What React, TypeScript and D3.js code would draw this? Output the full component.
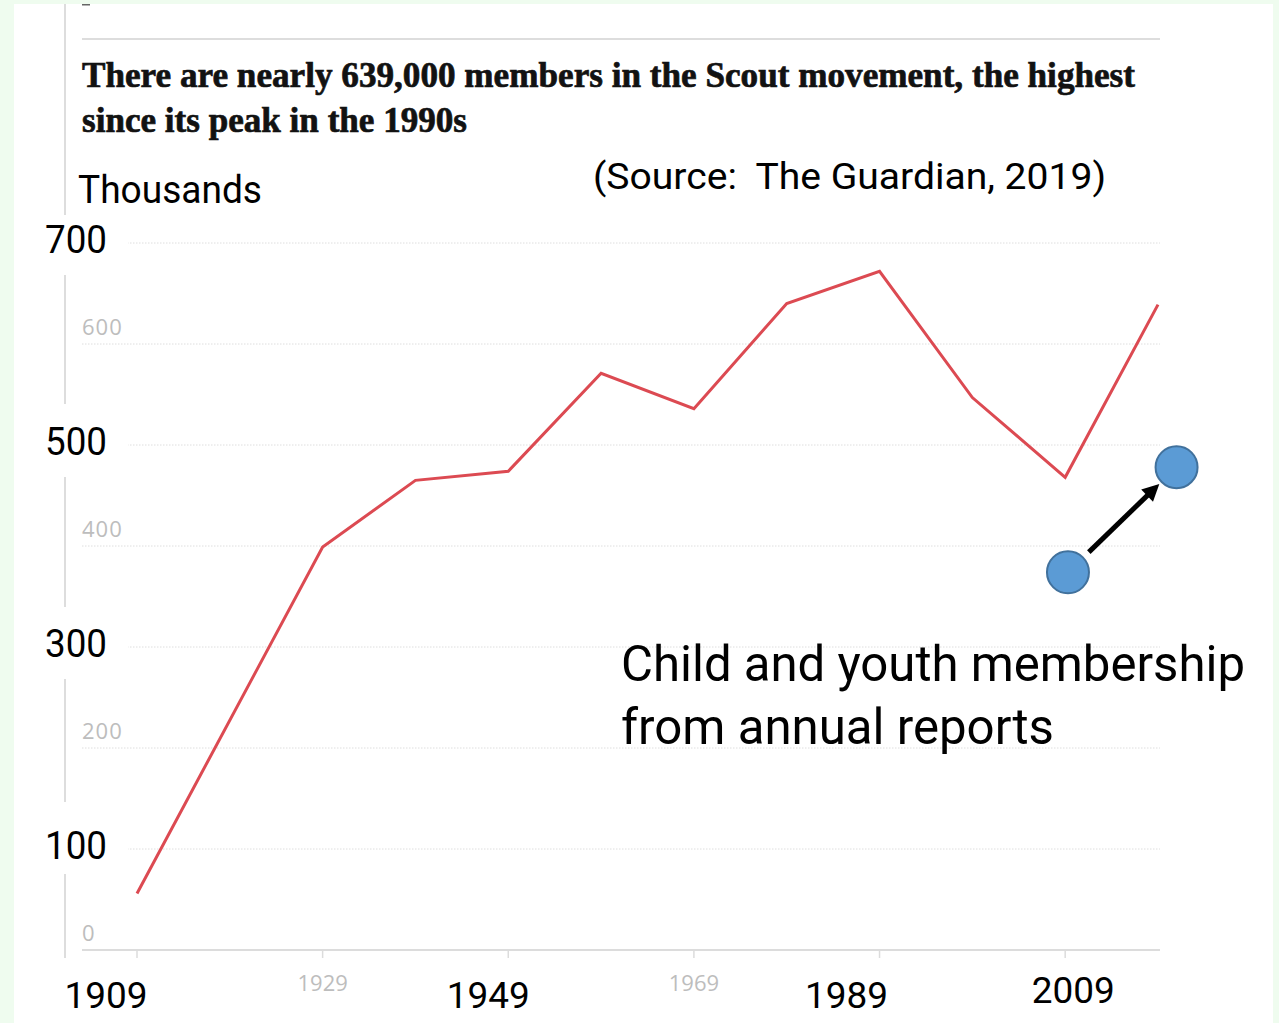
import React from "react";
import * as d3 from "d3";

// ---- data ----
const years = [1909, 1929, 1939, 1949, 1959, 1969, 1979, 1989, 1999, 2009, 2019];
const members = [56, 399, 465, 474, 571, 536, 640, 672, 547, 468, 639];
const yTicks = [0, 100, 200, 300, 400, 500, 600, 700];
const xTicks = [1909, 1929, 1949, 1969, 1989, 2009];
const yBigLabels = [700, 500, 300, 100];
const xBigLabels = [1909, 1949, 1989, 2009];
const titleLines = [
  "There are nearly 639,000 members in the Scout movement, the highest",
  "since its peak in the 1990s",
];
const sourceText = "(Source:  The Guardian, 2019)";
const unitText = "Thousands";
const noteLines = ["Child and youth membership", "from annual reports"];
// annotation markers (year, thousands)
const markerYears = [2009.3, 2021];
const markerValues = [374, 478];

const W = 1279;
const H = 1023;
const SANS = "'Open Sans', 'Noto Sans', sans-serif";
const BIG = "Roboto, 'Open Sans', sans-serif";

export default function App() {
  const x = d3.scaleLinear().domain([1909, 2019]).range([137, 1158]);
  const y = d3.scaleLinear().domain([0, 700]).range([950, 243]);
  const line = d3
    .line<number>()
    .x((_, i) => x(years[i]))
    .y((d) => y(d));

  const gridX0 = 82;
  const gridX1 = 1160;

  const m0 = { cx: x(markerYears[0]), cy: y(markerValues[0]) };
  const m1 = { cx: x(markerYears[1]), cy: y(markerValues[1]) };
  // arrow geometry between markers
  const dx = m1.cx - m0.cx;
  const dy = m1.cy - m0.cy;
  const len = Math.hypot(dx, dy);
  const ux = dx / len;
  const uy = dy / len;
  const r = 21;
  const start = { x: m0.cx + ux * (r + 8), y: m0.cy + uy * (r + 8) };
  const tip = { x: m1.cx - ux * (r + 3), y: m1.cy - uy * (r + 3) };
  const headL = 17;
  const headW = 8.5;
  const base = { x: tip.x - ux * headL, y: tip.y - uy * headL };
  const head = [
    [tip.x, tip.y],
    [base.x - uy * headW, base.y + ux * headW],
    [base.x + uy * headW, base.y - ux * headW],
  ]
    .map((p) => p.join(","))
    .join(" ");

  const bigYBoxes = { 700: [215, 275], 500: [404, 477], 300: [607, 679], 100: [802, 874] } as Record<number, number[]>;
  const bigXOffsets = { 1909: -31, 1949: -20, 1989: -33, 2009: 8 } as Record<number, number>;
  const bigXBase = { 1909: 1008, 1949: 1008, 1989: 1008, 2009: 1003 } as Record<number, number>;

  return (
    <svg
      width={W}
      height={H}
      style={{ position: "absolute", left: 0, top: 0, display: "block" }}
      xmlns="http://www.w3.org/2000/svg"
    >
      <rect x={0} y={0} width={W} height={H} fill="#effcef" />
      <rect x={14} y={4} width={1259} height={H - 4} fill="#ffffff" />

      {/* left guardian border and top rule */}
      <line x1={65} x2={65} y1={4} y2={958} stroke="#dddddd" strokeWidth={2} />
      <line x1={gridX0} x2={gridX1} y1={39} y2={39} stroke="#dddddd" strokeWidth={2} />
      <rect x={82} y={4} width={8} height={1.5} fill="#666" />

      {/* title */}
      {titleLines.map((t, i) => (
        <text
          key={i}
          x={82}
          y={87 + i * 45}
          fontFamily="'Liberation Serif', 'Times New Roman', serif"
          fontWeight="bold"
          fontSize={36}
          fill="#121212"
          stroke="#121212"
          strokeWidth={0.7}
          textLength={i === 0 ? 1053 : 385}
          lengthAdjust="spacingAndGlyphs"
        >
          {t}
        </text>
      ))}

      {/* gridlines */}
      {yTicks
        .filter((v) => v > 0)
        .map((v) => (
          <line
            key={v}
            x1={gridX0}
            x2={gridX1}
            y1={y(v)}
            y2={y(v)}
            stroke="#dedede"
            strokeWidth={1}
            strokeDasharray="1.5,1.5"
          />
        ))}
      <line x1={gridX0} x2={gridX1} y1={y(0)} y2={y(0)} stroke="#dcdcdc" strokeWidth={2} />
      {xTicks.map((t) => (
        <line key={t} x1={x(t)} x2={x(t)} y1={y(0)} y2={y(0) + 8} stroke="#dcdcdc" strokeWidth={1.5} />
      ))}

      {/* small axis labels (the rest are hidden under the large overlay labels) */}
      {yTicks
        .filter((v) => !yBigLabels.includes(v))
        .map((v) => (
          <text key={v} x={82} y={y(v) - 9} fontFamily={SANS} fontSize={22} fill="#bdbdbd" letterSpacing={1}>
            {v}
          </text>
        ))}
      {xTicks
        .filter((t) => !xBigLabels.includes(t))
        .map((t) => (
          <text key={t} x={x(t)} y={991} textAnchor="middle" fontFamily={SANS} fontSize={22} fill="#bdbdbd">
            {t}
          </text>
        ))}

      {/* data line */}
      <path d={line(members) || ""} fill="none" stroke="#dc4a52" strokeWidth={3} strokeLinejoin="miter" />

      {/* overlay boxes */}
      <rect x={70} y={152} width={200} height={63} fill="#ffffff" />
      {yBigLabels.map((v) => (
        <rect key={v} x={40} y={bigYBoxes[v][0]} width={88} height={bigYBoxes[v][1] - bigYBoxes[v][0]} fill="#ffffff" />
      ))}

      {/* big overlay labels */}
      <text x={78} y={203} fontFamily={BIG} fontSize={39} fill="#000" textLength={184} lengthAdjust="spacingAndGlyphs">
        {unitText}
      </text>
      {yBigLabels.map((v) => (
        <text
          key={v}
          x={45}
          y={y(v) + 10}
          fontFamily={BIG}
          fontSize={38}
          fill="#000"
          textLength={62}
          lengthAdjust="spacingAndGlyphs"
        >
          {v}
        </text>
      ))}
      {xBigLabels.map((t) => (
        <text
          key={t}
          x={x(t) + bigXOffsets[t]}
          y={bigXBase[t]}
          textAnchor="middle"
          fontFamily={BIG}
          fontSize={37}
          fill="#000"
          textLength={83}
          lengthAdjust="spacingAndGlyphs"
        >
          {t}
        </text>
      ))}

      <text
        x={593}
        y={189}
        fontFamily={BIG}
        fontSize={36}
        fill="#000"
        style={{ whiteSpace: "pre" }}
        textLength={513}
        lengthAdjust="spacingAndGlyphs"
      >
        {sourceText}
      </text>

      {noteLines.map((t, i) => (
        <text
          key={i}
          x={621}
          y={681 + i * 63}
          fontFamily={BIG}
          fontSize={50}
          fill="#000"
          textLength={i === 0 ? 624 : 433}
          lengthAdjust="spacingAndGlyphs"
        >
          {t}
        </text>
      ))}

      {/* arrow + markers */}
      <line x1={start.x} y1={start.y} x2={base.x + ux * 2} y2={base.y + uy * 2} stroke="#000" strokeWidth={5} />
      <polygon points={head} fill="#000" />
      <circle cx={m0.cx} cy={m0.cy} r={r} fill="#5b9bd5" stroke="#41719c" strokeWidth={2} />
      <circle cx={m1.cx} cy={m1.cy} r={r} fill="#5b9bd5" stroke="#41719c" strokeWidth={2} />
    </svg>
  );
}
